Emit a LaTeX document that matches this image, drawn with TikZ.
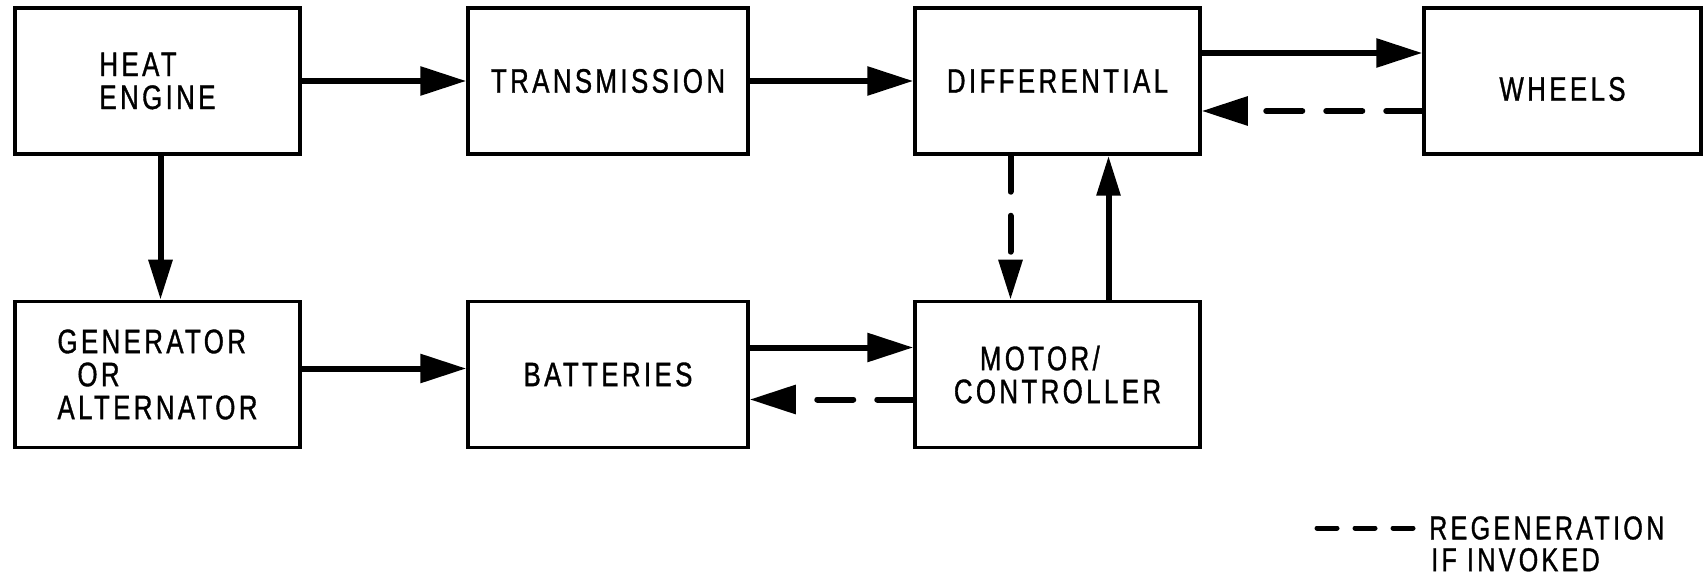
\documentclass[tikz,border=0pt]{standalone}
\usepackage{fontspec}
\newfontfamily\boxfont{Liberation Sans}[FakeStretch=0.76, LetterSpace=10, FakeBold=1]
\usetikzlibrary{arrows.meta, positioning}
\tikzstyle{block} = [rectangle, line width=3.5pt, minimum height=146pt, text centered, draw=black, font=\boxfont\fontsize{34}{33}\selectfont]
\tikzstyle{arrow} = [line width=6pt, -{Triangle[length=46pt, width=28pt]}]
\tikzstyle{uparrow} = [line width=6pt, -{Triangle[length=40pt, width=23pt]}]
\tikzstyle{regen} = [dash pattern=on 36pt off 24pt, line cap=round]
\tikzstyle{legendtext} = [inner sep=0pt, font=\boxfont\fontsize{33}{32}\selectfont]

\begin{document}
\begin{tikzpicture}[x=1pt, y=1pt, node distance = 144pt]
		\useasboundingbox (0,0) rectangle (1704,-577);
		% top row
		\node (Heat) [block, minimum width=285pt, align=left] at (157.5,-81) {HEAT\\ENGINE};
		\node (Trans) [block, minimum width=280pt, right = 164.5pt of Heat] {TRANSMISSION};
		\node (Diff) [block, minimum width=285pt, right = 163.5pt of Trans] {DIFFERENTIAL};
		\node (Wheels) [block, minimum width=277pt, right = 220.5pt of Diff] {\raisebox{-8pt}[\height][\depth]{WHEELS}};
		% bottom row
		\node (Gen) [block, minimum width=285pt, align=left, below = of Heat] {GENERATOR\\\hspace*{20pt}OR\\ALTERNATOR};
		\node (Batt) [block, minimum width=280pt, below = of Trans] {BATTERIES};
		\node (Motor) [block, minimum width=285pt, align=left, below = of Diff] {\hspace*{26pt}MOTOR/\\CONTROLLER};
		% legend
		\coordinate (LegStart) at (1317,-528);
		\node (Regen) [legendtext, anchor=west] at (1429,-528) {REGENERATION};
		\node (Invoked) [legendtext, below = 8pt of Regen.south west, anchor=north west, xshift=2pt] {IF INVOKED};
		% connectors
		\draw [arrow] (Heat) -- (Trans);
		\draw [arrow] (Trans) -- (Diff);
		\draw [arrow] ([yshift=28pt]Diff.east) -- ([yshift=28pt]Wheels.west);
		\draw [arrow, regen] ([yshift=-30pt]Wheels.west) -- ([yshift=-30pt]Diff.east);
		\draw [uparrow] ([xshift=3pt]Heat.south) -- ([xshift=3pt]Gen.north);
		\draw [arrow] ([yshift=6pt]Gen.east) -- ([yshift=6pt]Batt.west);
		\draw [arrow] ([yshift=27pt]Batt.east) -- ([yshift=27pt]Motor.west);
		\draw [arrow, regen] ([yshift=-25pt]Motor.west) -- ([yshift=-25pt]Batt.east);
		\draw [uparrow, regen] ([xshift=-47pt]Diff.south) -- ([xshift=-47pt]Motor.north);
		\draw [uparrow] ([xshift=51pt]Motor.north) -- ([xshift=51pt]Diff.south);
		\draw [line width=5pt, dash pattern=on 20pt off 18pt, line cap=round] (LegStart) -- ([xshift=-9pt]Regen.west);
		\end{tikzpicture}
\end{document}
